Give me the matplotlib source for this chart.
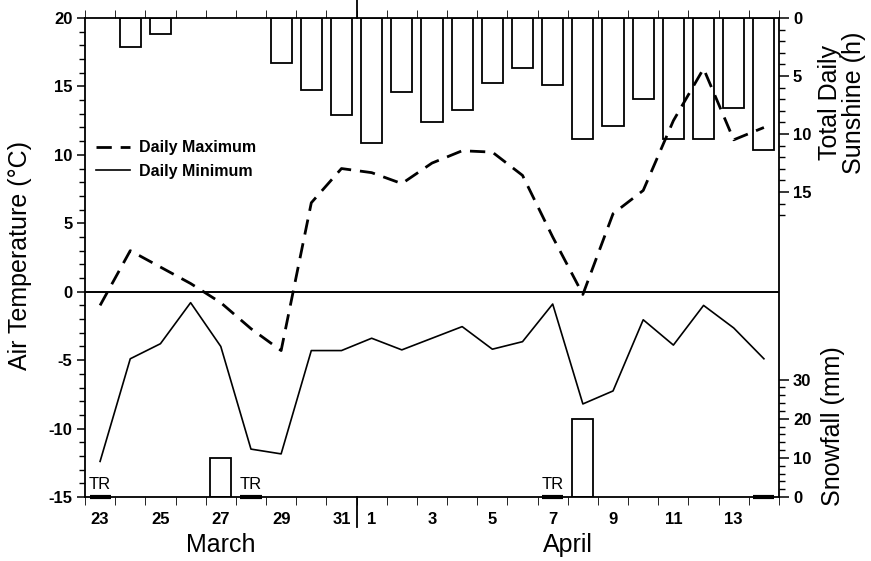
import numpy as np
import matplotlib
matplotlib.use("Agg")
import matplotlib.pyplot as plt
from matplotlib.ticker import FixedLocator, MultipleLocator

plt.rcParams['font.family'] = ['Liberation Sans', 'DejaVu Sans']
plt.rcParams['axes.unicode_minus'] = False

# 23 Mar - 14 Apr, one value per day
days = [23, 24, 25, 26, 27, 28, 29, 30, 31,
        1, 2, 3, 4, 5, 6, 7, 8, 9, 10, 11, 12, 13, 14]
months = ['March', 'April']
month_len = [9, 14]

tmax = [-1.0, 3.0, 1.8, 0.6, -0.8, -2.7, -4.3, 6.5, 9.0,
        8.7, 7.9, 9.4, 10.3, 10.2, 8.5, 4.0, -0.2, 5.7, 7.4, 12.5, 16.3, 11.1, 12.0]
tmin = [-12.4, -4.9, -3.8, -0.8, -4.0, -11.5, -11.85, -4.3, -4.3,
        -3.4, -4.25, -3.4, -2.55, -4.2, -3.65, -0.9, -8.2, -7.25, -2.05, -3.9, -1.0, -2.65, -4.9]
sunshine = [0, 2.5, 1.4, 0, 0, 0, 3.85, 6.2, 8.4,
            10.8, 6.35, 9.0, 7.9, 5.6, 4.35, 5.8, 10.4, 9.3, 7.0, 10.4, 10.4, 7.8, 11.4]
snowfall = [0, 0, 0, 0, 10, 0, 0, 0, 0,
            0, 0, 0, 0, 0, 0, 0, 20, 0, 0, 0, 0, 0, 0]
trace = [1, 0, 0, 0, 0, 1, 0, 0, 0,
         0, 0, 0, 0, 0, 0, 1, 0, 0, 0, 0, 0, 0, 1]
trace_label = [1, 0, 0, 0, 0, 1, 0, 0, 0,
               0, 0, 0, 0, 0, 0, 1, 0, 0, 0, 0, 0, 0, 0]

x = np.arange(len(days)) + 0.5
bw = 0.7

fig = plt.figure(figsize=(8.71, 5.61), dpi=100)
ax = fig.add_axes([85/871, 64/561, 694/871, 479/561])
ax2 = ax.twinx()   # sunshine, hangs from the top
ax3 = ax.twinx()   # snowfall, from the bottom

# temperature lines
ax.plot(x, tmax, color='black', lw=2.0, dashes=(5.5, 3.2), label='Daily Maximum')
ax.plot(x, tmin, color='black', lw=1.2, label='Daily Minimum')
ax.axhline(0, color='black', lw=1.4)
ax.set_xlim(0, len(days))
ax.set_ylim(-15, 20)

# sunshine bars
sx = [xi for xi, s in zip(x, sunshine) if s > 0]
sv = [s for s in sunshine if s > 0]
ax2.bar(sx, sv, width=bw, fill=False, edgecolor='black', lw=1.3)
ax2.set_ylim(41.3, 0)

# snowfall bars + trace marks
nx = [xi for xi, s in zip(x, snowfall) if s > 0]
nv = [s for s in snowfall if s > 0]
ax3.bar(nx, nv, width=bw, fill=False, edgecolor='black', lw=1.3)
for xi, t, tl in zip(x, trace, trace_label):
    if t:
        ax3.hlines(0, xi - bw/2, xi + bw/2, color='black', lw=3, clip_on=False)
    if tl:
        ax3.text(xi, 1.2, 'TR', ha='center', va='bottom', fontsize=12)
ax3.set_ylim(0, 122.3)

# axes styling
for a in (ax2, ax3):
    for s in a.spines.values():
        s.set_visible(False)
for s in ax.spines.values():
    s.set_linewidth(1.3)

tick_font = dict(labelsize=12, width=1.1)
odd = [i for i, d in enumerate(days) if d % 2 == 1]
ax.set_xticks(x[odd], [str(days[i]) for i in odd])
ax.xaxis.set_minor_locator(FixedLocator(np.arange(0, len(days) + 1)))
ax.tick_params(axis='x', which='major', length=0, pad=11, **tick_font)
ax.tick_params(axis='x', which='minor', direction='out', length=6, top=True, bottom=True)
ax.set_yticks(np.arange(-15, 21, 5))
ax.yaxis.set_minor_locator(MultipleLocator(1))
ax.tick_params(axis='y', which='major', direction='out', length=6, pad=3, **tick_font)
ax.tick_params(axis='y', which='minor', direction='out', length=4, width=1.0)

ax2.set_yticks([0, 5, 10, 15])
ax2.yaxis.set_minor_locator(FixedLocator(np.arange(0, 18)))
ax2.tick_params(axis='y', which='major', direction='out', length=7, pad=3, **tick_font)
ax2.tick_params(axis='y', which='minor', direction='out', length=4, width=1.0)
ax3.set_yticks([0, 10, 20, 30])
ax3.yaxis.set_minor_locator(FixedLocator(np.arange(0, 31, 2)))
ax3.tick_params(axis='y', which='major', direction='out', length=7, pad=3, **tick_font)
ax3.tick_params(axis='y', which='minor', direction='out', length=4, width=1.0)
for a in (ax, ax2, ax3):
    for lbl in a.get_xticklabels() + a.get_yticklabels():
        lbl.set_fontweight('bold')

# month separator and month names
sep = month_len[0]
tr = ax.get_xaxis_transform()
ax.plot([sep, sep], [1, 1 + 18/479], color='black', lw=1.3, transform=tr, clip_on=False)
ax.plot([sep, sep], [0, -30/479], color='black', lw=1.3, transform=tr, clip_on=False)
start = 0
for m, n in zip(months, month_len):
    ax.text(start + n/2, -0.1, m, transform=tr, ha='center', va='center', fontsize=18)
    start += n

leg = ax.legend(loc='upper left', bbox_to_anchor=(0.016, 0.745), frameon=False,
                fontsize=11.5, handlelength=2.1, handletextpad=0.6, labelspacing=0.55,
                borderpad=0, borderaxespad=0)
for t in leg.get_texts():
    t.set_fontweight('bold')

fig.text(20/871, 1 - 255/561, 'Air Temperature (°C)', rotation=90, ha='center', va='center', fontsize=18)
fig.text(842/871, 1 - 103/561, 'Total Daily\nSunshine (h)', rotation=90, ha='center', va='center',
         fontsize=18, linespacing=1.0, multialignment='center')
fig.text(833/871, 1 - 426/561, 'Snowfall (mm)', rotation=90, ha='center', va='center', fontsize=18)

fig.savefig('out.png', dpi=100)
